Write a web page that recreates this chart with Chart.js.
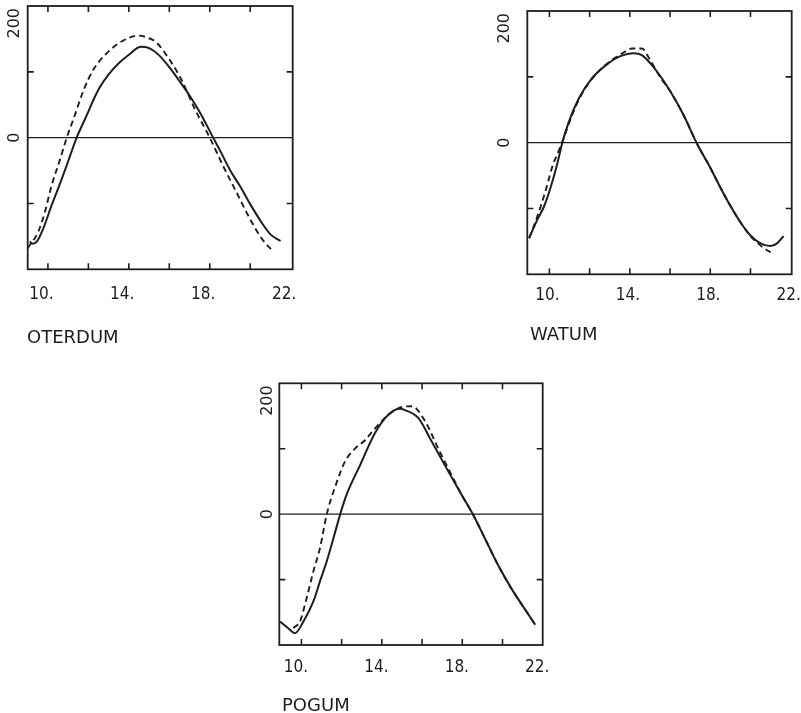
<!DOCTYPE html>
<html>
<head>
<meta charset="utf-8">
<script src="https://cdn.jsdelivr.net/npm/chart.js@4.4.0/dist/chart.umd.min.js"></script>
<style>
  html, body { margin: 0; padding: 0; background: #fff; }
  #wrap { position: relative; width: 801px; height: 713px; }
  canvas { position: absolute; left: 0; top: 0; }
</style>
</head>
<body>
<div id="wrap">
  <canvas id="c1" width="801" height="713"></canvas>
  <canvas id="c2" width="801" height="713"></canvas>
  <canvas id="c3" width="801" height="713"></canvas>
</div>
<script>
// tick labels
const xTickLabels = [10, 14, 18, 22];
const xTickMarks = [11, 13, 15, 17, 19, 21];
const yTickLabels = [0, 200];
const yTickMarks = [-100, 100];

// OTERDUM
const oterdumSolidX = [10.1, 10.25, 10.45, 10.77, 11.18, 11.68, 12.09, 12.42, 12.83, 13.5, 14.0, 14.5, 15.0, 15.6, 16.0, 16.5, 17.0, 17.5, 18.0, 18.5, 19.17, 19.5, 20.0, 20.5, 21.0, 21.5, 22.0, 22.5];
const oterdumSolidY = [-158, -161, -158, -138, -103, -63, -28, 0, 28, 73, 96, 113, 126, 138, 136, 125, 107, 86, 64, 39, 0, -19, -49, -74, -101, -126, -147, -157];
const oterdumDashX = [10.0, 10.52, 10.85, 11.18, 11.6, 11.93, 12.26, 12.75, 13.24, 13.9, 14.64, 15.46, 16.0, 16.35, 17.0, 17.6, 18.27, 19.0, 19.66, 20.32, 20.98, 21.56, 22.13];
const oterdumDashY = [-168, -143, -113, -73, -33, 0, 28, 71, 103, 128, 146, 155, 151, 145, 119, 88, 43, 0, -43, -83, -123, -153, -173];

// WATUM
const watumSolidX = [9.99, 10.4, 10.73, 11.07, 11.4, 11.64, 11.97, 12.46, 13.12, 13.95, 14.5, 15.2, 15.6, 16.17, 17.01, 17.67, 18.33, 19.0, 19.5, 20.0, 20.5, 21.0, 21.5, 22.0, 22.32, 22.65];
const watumSolidY = [-145, -117, -97, -67, -31, 0, 32, 67, 98, 121, 131, 136, 133, 115, 78, 42, -1, -38, -68, -96, -121, -141, -153, -157, -153, -142];
const watumDashX = [9.99, 10.4, 10.82, 11.15, 11.48, 11.64, 12.13, 12.63, 13.29, 14.12, 14.7, 15.1, 15.6, 16.0, 16.5, 17.01, 17.67, 18.33, 19.0, 19.5, 20.0, 20.5, 21.0, 21.66, 22.07];
const watumDashY = [-145, -112, -72, -36, -11, 1, 42, 75, 103, 126, 137, 143, 143, 126, 100, 78, 42, -1, -38, -68, -96, -121, -142, -160, -168];

// POGUM
const pogumSolidX = [9.94, 10.33, 10.68, 11.1, 11.6, 11.93, 12.26, 12.6, 12.93, 13.26, 13.92, 14.66, 15.32, 15.9, 16.15, 16.81, 17.48, 18.31, 18.98, 19.56, 20.14, 20.8, 21.47, 22.13, 22.63];
const pogumSolidY = [-164, -174, -182, -164, -133, -102, -72, -36, 0, 31, 75, 124, 152, 161, 159, 147, 111, 65, 29, -2, -38, -79, -115, -146, -169];
const pogumDashX = [10.6, 10.93, 11.26, 11.6, 11.93, 12.26, 12.67, 13.16, 13.66, 14.16, 14.66, 15.15, 15.6, 16.0, 16.5, 17.15, 17.81, 18.48, 18.98, 19.56, 20.14, 20.8, 21.47, 22.13, 22.63];
const pogumDashY = [-174, -164, -128, -87, -51, 0, 41, 80, 100, 113, 131, 147, 158, 164, 165, 142, 100, 59, 29, -2, -38, -79, -115, -146, -169];

const ink = '#1e1e1e';

function pts(xs, ys) {
  return xs.map((x, i) => ({ x: x, y: ys[i] }));
}

// frame, inward ticks, zero line, labels
const framePlugin = {
  id: 'frame',
  beforeDatasetsDraw(chart, args, o) {
    const { ctx, chartArea: a, scales: { y } } = chart;
    const y0 = y.getPixelForValue(0);
    ctx.save();
    ctx.strokeStyle = ink;
    ctx.lineWidth = 1.4;
    ctx.beginPath();
    ctx.moveTo(a.left, y0);
    ctx.lineTo(a.right, y0);
    ctx.stroke();
    ctx.restore();
  },
  afterDraw(chart, args, o) {
    const { ctx, chartArea: a, scales: { x, y } } = chart;
    ctx.save();
    ctx.strokeStyle = ink;
    ctx.fillStyle = ink;
    ctx.lineWidth = 1.8;
    ctx.strokeRect(a.left, a.top, a.right - a.left, a.bottom - a.top);

    const len = 6;
    ctx.lineWidth = 1.6;
    ctx.beginPath();
    xTickMarks.forEach(v => {
      const px = x.getPixelForValue(v);
      ctx.moveTo(px, a.top); ctx.lineTo(px, a.top + len);
      ctx.moveTo(px, a.bottom); ctx.lineTo(px, a.bottom - len);
    });
    yTickMarks.forEach(v => {
      const py = y.getPixelForValue(v);
      ctx.moveTo(a.left, py); ctx.lineTo(a.left + len, py);
      ctx.moveTo(a.right, py); ctx.lineTo(a.right - len, py);
    });
    ctx.stroke();

    // x labels, left aligned at their value
    ctx.font = '17px "DejaVu Sans Condensed", "DejaVu Sans", sans-serif';
    ctx.textAlign = 'left';
    ctx.textBaseline = 'alphabetic';
    xTickLabels.forEach(v => {
      ctx.fillText(v + '.', x.getPixelForValue(v) + o.xDx, a.bottom + o.xDy);
    });

    // y labels, rotated
    ctx.font = '16px "DejaVu Sans", sans-serif';
    ctx.textBaseline = 'middle';
    yTickLabels.forEach(v => {
      ctx.save();
      const top = v === y.max;
      ctx.translate(a.left - o.yDx, top ? a.top + 2 : y.getPixelForValue(v));
      ctx.rotate(-Math.PI / 2);
      ctx.textAlign = top ? 'right' : 'center';
      ctx.fillText(String(v), 0, 0);
      ctx.restore();
    });

    // panel name
    ctx.font = '18px "DejaVu Sans", sans-serif';
    ctx.textAlign = 'left';
    ctx.textBaseline = 'alphabetic';
    ctx.fillText(o.title, o.titleX, o.titleY);
    ctx.restore();
  }
};

function makePanel(id, box, xMin, xMax, solid, dash, frame) {
  new Chart(document.getElementById(id), {
    type: 'line',
    data: {
      datasets: [
        { data: solid, borderColor: ink, borderWidth: 2, pointRadius: 0, cubicInterpolationMode: 'monotone', fill: false },
        { data: dash, borderColor: ink, borderWidth: 1.9, borderDash: [6, 4], pointRadius: 0, cubicInterpolationMode: 'monotone', fill: false }
      ]
    },
    options: {
      responsive: false,
      animation: false,
      devicePixelRatio: 1,
      layout: { padding: { left: box[0], top: box[1], right: 801 - box[2], bottom: 713 - box[3] } },
      scales: {
        x: { type: 'linear', min: xMin, max: xMax, display: false },
        y: { type: 'linear', min: -200, max: 200, display: false }
      },
      plugins: {
        legend: { display: false },
        tooltip: { enabled: false },
        frame: frame
      }
    },
    plugins: [framePlugin]
  });
}

makePanel('c1', [27.7, 6, 292.7, 269.3], 10.0, 23.1,
  pts(oterdumSolidX, oterdumSolidY), pts(oterdumDashX, oterdumDashY),
  { title: 'OTERDUM', titleX: 27, titleY: 343, xDx: 1.5, xDy: 30, yDx: 12.7 });

makePanel('c2', [527.3, 11, 791.7, 274.3], 9.9, 23.05,
  pts(watumSolidX, watumSolidY), pts(watumDashX, watumDashY),
  { title: 'WATUM', titleX: 530, titleY: 340, xDx: 6, xDy: 26, yDx: 22.3 });

makePanel('c3', [279.3, 383.3, 542.7, 645], 9.9, 23.0,
  pts(pogumSolidX, pogumSolidY), pts(pogumDashX, pogumDashY),
  { title: 'POGUM', titleX: 282, titleY: 711, xDx: 2.5, xDy: 26.5, yDx: 11.8 });
</script>
</body>
</html>
